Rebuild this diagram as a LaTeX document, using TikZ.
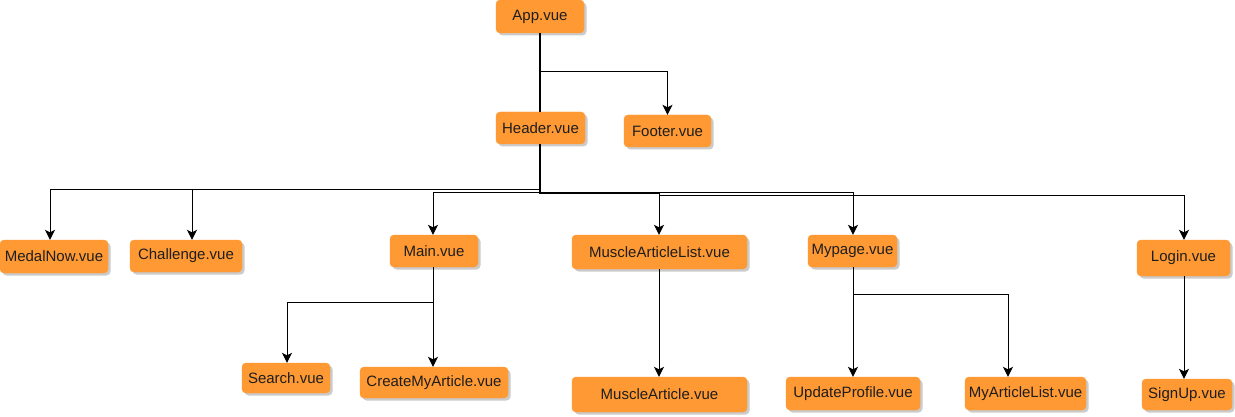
\documentclass[tikz,border=0pt]{standalone}
\usepackage{fontspec}
\setmainfont{Liberation Sans}
\usetikzlibrary{arrows.meta,shadows}
\definecolor{boxorange}{RGB}{255,153,51}
\definecolor{txt}{RGB}{30,30,30}
\begin{document}
\begin{tikzpicture}[x=1pt,y=-1pt,
  comp/.style={rectangle, rounded corners=4pt, fill=boxorange, draw=boxorange,
    inner sep=0pt, text=txt, font=\fontsize{15}{17}\selectfont,
    drop shadow={shadow xshift=2.5pt, shadow yshift=-2.5pt, fill=black!25, opacity=0.8}},
  link/.style={draw=black, line width=1pt},
  thick link/.style={draw=black, line width=2.6pt},
  arr/.style={link, -{Stealth[length=10pt,width=10pt,inset=2.5pt]}}]
\useasboundingbox (0,0) rectangle (1235,417);
\fill[white] (0,0) rectangle (1235,417);
% nodes
\node[comp, minimum width=88pt, minimum height=33pt] (app) at (540,16.5) {App.vue};
\node[comp, minimum width=89pt, minimum height=32pt] (header) at (540.5,128) {Header.vue};
\node[comp, minimum width=87pt, minimum height=32pt] (footer) at (667.5,131) {Footer.vue};
\node[comp, minimum width=108pt, minimum height=33pt] (medal) at (54,256.5) {MedalNow.vue};
\node[comp, minimum width=112pt, minimum height=32pt] (chall) at (186,256) {Challenge.vue};
\node[comp, minimum width=88pt, minimum height=32pt] (main) at (434,251) {Main.vue};
\node[comp, minimum width=88pt, minimum height=30pt] (search) at (286,378) {Search.vue};
\node[comp, minimum width=148pt, minimum height=31pt] (create) at (434,382.5) {CreateMyArticle.vue};
\node[comp, minimum width=175pt, minimum height=34pt] (mal) at (659.5,252) {MuscleArticleList.vue};
\node[comp, minimum width=175pt, minimum height=35pt] (ma) at (659.5,394.5) {MuscleArticle.vue};
\node[comp, minimum width=89pt, minimum height=32pt] (mypage) at (852.5,251) {Mypage.vue};
\node[comp, minimum width=134pt, minimum height=33pt] (update) at (853,393.5) {UpdateProfile.vue};
\node[comp, minimum width=121pt, minimum height=33pt] (myart) at (1025.5,393.5) {MyArticleList.vue};
\node[comp, minimum width=93pt, minimum height=36pt] (login) at (1183.5,258) {Login.vue};
\node[comp, minimum width=90pt, minimum height=31pt] (signup) at (1187,394.5) {SignUp.vue};
% junction coordinates
\coordinate (jf) at (540,72);
\coordinate (jh) at (540,193);
\coordinate (jl) at (540,190);
\coordinate (jm) at (659,193);
\coordinate (jlog) at (659,196);
\coordinate (jmed) at (50,190);
\coordinate (jch) at (192,190);
\coordinate (jmain) at (433,302);
\coordinate (jmy) at (853,294);
% connectors
\draw[thick link] (app.south -| jf) -- (header.north -| jf);
\draw[arr] (jf) -| (footer.north);
\draw[thick link] (header.south -| jh) -- (jh) -- (jm);
\draw[arr] (jl) -- (jmed) -- (medal.north -| jmed);
\draw[arr] (jch) -- (chall.north -| jch);
\draw[arr] (jh) -| (main.north -| jmain);
\draw[arr] (jm) -- (mal.north -| jm);
\draw[arr] (jm) -| (mypage.north -| jmy);
\draw[arr] (jlog) -| (login.north -| 1184,0);
\draw[arr] (main.south -| jmain) -- (jmain) -| (search.north -| 287,0);
\draw[arr] (jmain) -- (create.north -| jmain);
\draw[arr] (mal.south -| jm) -- (ma.north -| jm);
\draw[arr] (mypage.south -| jmy) -- (jmy) -| (myart.north -| 1008,0);
\draw[arr] (jmy) -- (update.north -| jmy);
\draw[arr] (login.south -| 1184,0) -- (signup.north -| 1184,0);
\end{tikzpicture}
\end{document}
